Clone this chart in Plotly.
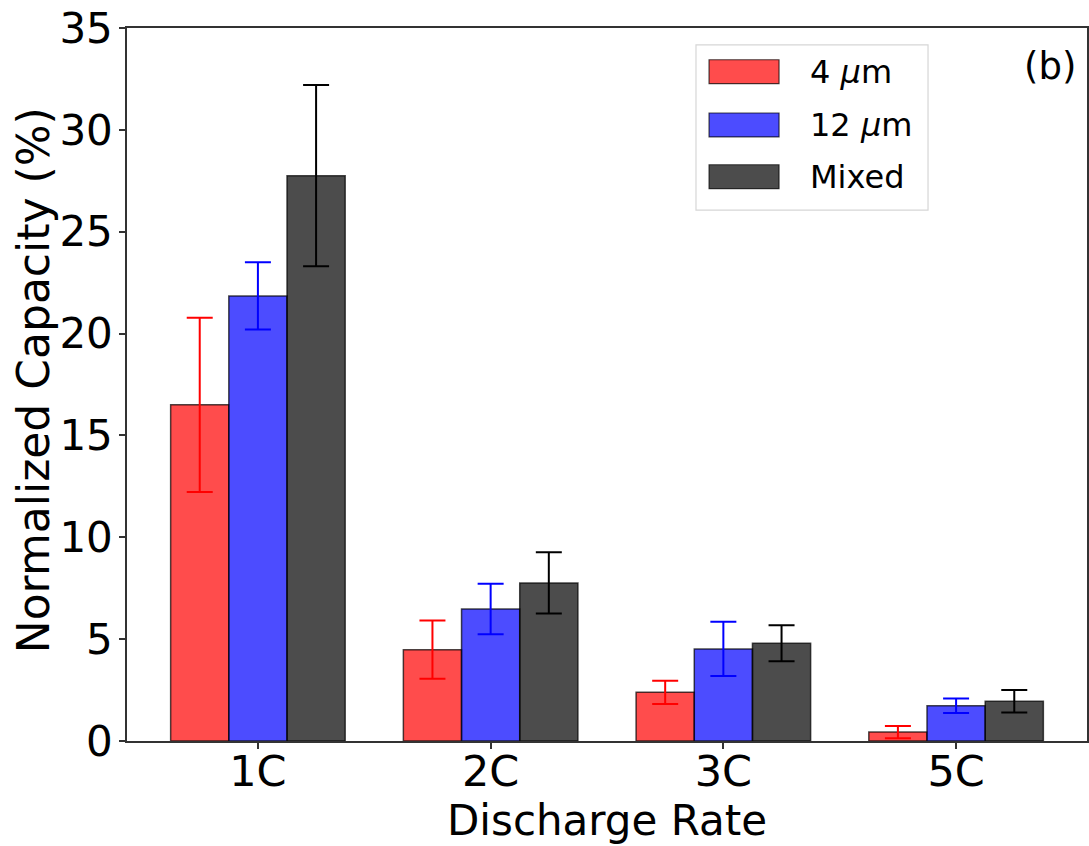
import plotly.graph_objects as go

categories = ["1C", "2C", "3C", "5C"]
series_names = ["4 <i>μ</i>m", "12 <i>μ</i>m", "Mixed"]
vals_4um = [16.5, 4.48, 2.39, 0.44]
err_4um = [4.28, 1.43, 0.57, 0.30]
vals_12um = [21.85, 6.48, 4.52, 1.73]
err_12um = [1.65, 1.24, 1.33, 0.36]
vals_mixed = [27.75, 7.76, 4.80, 1.95]
err_mixed = [4.45, 1.50, 0.88, 0.55]
y_ticks = [0, 5, 10, 15, 20, 25, 30, 35]

fills = ["rgba(255,0,0,0.7)", "rgba(0,0,255,0.7)", "rgba(0,0,0,0.7)"]
err_colors = ["red", "blue", "black"]
values = [vals_4um, vals_12um, vals_mixed]
errors = [err_4um, err_12um, err_mixed]

FONT = "DejaVu Sans"
fig = go.Figure()
for name, v, e, fc, ec in zip(series_names, values, errors, fills, err_colors):
    fig.add_trace(go.Bar(
        x=categories, y=v, name=name,
        marker=dict(color=fc, line=dict(color="rgba(0,0,0,0.7)", width=1.5)),
        error_y=dict(type="data", array=e, visible=True, color=ec, thickness=2, width=13),
        showlegend=False,
    ))

# manual legend (matplotlib style)
lx0, lx1, ly0, ly1 = 0.5927, 0.8344, 0.7447, 0.9762
fig.add_shape(type="rect", xref="paper", yref="paper", x0=lx0, x1=lx1, y0=ly0, y1=ly1,
              line=dict(color="#d6d6d6", width=1.2), fillcolor="rgba(255,255,255,0.8)", layer="above")
row_y = [0.9387, 0.8640, 0.7914]
for i, (name, fc) in enumerate(zip(series_names, fills)):
    fig.add_shape(type="rect", xref="paper", yref="paper",
                  x0=0.6063, x1=0.6792, y0=row_y[i] - 0.0168, y1=row_y[i] + 0.0168,
                  line=dict(color="rgba(0,0,0,0.7)", width=1.2), fillcolor=fc, layer="above")
    fig.add_annotation(x=0.709, y=row_y[i], xref="paper", yref="paper", text=name,
                       showarrow=False, xanchor="left", yanchor="middle",
                       font=dict(family=FONT, size=32, color="black"))

fig.add_annotation(x=0.9906, y=0.9467, xref="paper", yref="paper", text="(b)", showarrow=False,
                   xanchor="right", yanchor="middle", font=dict(family=FONT, size=37, color="black"))

# y-axis title
fig.add_annotation(x=-0.0979, y=0.506, xref="paper", yref="paper", text="Normalized Capacity (%)",
                   textangle=-90, showarrow=False, xanchor="center", yanchor="middle",
                   font=dict(family=FONT, size=44, color="black"))

fig.update_layout(
    width=1089, height=846,
    margin=dict(l=127, r=2, t=28, b=105),
    paper_bgcolor="white", plot_bgcolor="white",
    barmode="group", bargap=0.25, bargroupgap=0,
    font=dict(family=FONT, size=43, color="black"),
)
fig.update_xaxes(
    range=[-0.5625, 3.5625], showgrid=False, automargin=False,
    showline=True, linecolor="#333", linewidth=1.5, mirror=True,
    ticks="outside", ticklen=6, tickwidth=1.5, tickcolor="#333",
    tickfont=dict(family=FONT, size=43), ticklabelstandoff=-14,
    title=dict(text="Discharge Rate", font=dict(family=FONT, size=42), standoff=10),
)
fig.update_yaxes(
    range=[0, 35], tickvals=y_ticks, showgrid=False, zeroline=False, automargin=False,
    showline=True, linecolor="#333", linewidth=1.5, mirror=True,
    ticks="outside", ticklen=6, tickwidth=1.5, tickcolor="#333",
    tickfont=dict(family=FONT, size=42), ticklabeloverflow="allow", ticklabelstandoff=-2,
)

fig.write_html("out.html", config={"displayModeBar": False},
               post_script="document.body.style.margin='0px';")
